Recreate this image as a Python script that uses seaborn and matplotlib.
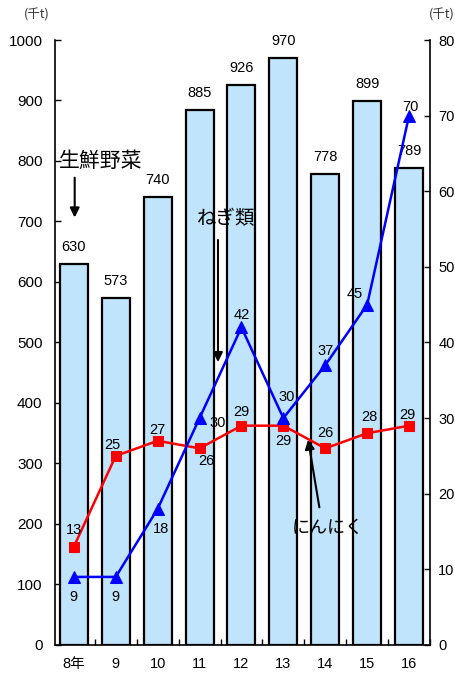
import matplotlib
matplotlib.use("Agg")
import matplotlib.pyplot as plt
import numpy as np
import pandas as pd
import seaborn as sns

# 出荷量データ（千t）
years = ["8年", "9", "10", "11", "12", "13", "14", "15", "16"]
vegetables = [630, 573, 740, 885, 926, 970, 778, 899, 789]   # 生鮮野菜
garlic = [13, 25, 27, 26, 29, 29, 26, 28, 29]                # にんにく
negi = [9, 9, 18, 30, 42, 30, 37, 45, 70]                    # ねぎ類

# 数値ラベルの中心のずれ（ピクセル、上が正）
garlic_offsets = [(0, 17), (-3, 11), (0, 11), (7, -13), (0, 14), (0, -15), (0, 15), (2, 16), (-2, 11)]
negi_offsets = [(0, -20), (0, -20), (3, -20), (18, -5), (0, 12), (3, 21), (0, 14), (-12, 11), (1, 9)]

PX = 72 / 100  # points per pixel at 100 dpi

sns.set_theme(style="white")
plt.rcParams["font.family"] = ["Liberation Sans", "Noto Sans CJK JP", "DejaVu Sans"]
plt.rcParams.update({"text.color": "black", "xtick.color": "black",
                     "ytick.color": "black", "axes.labelcolor": "black"})

fig = plt.figure(figsize=(4.56, 6.78), dpi=100)
ax = fig.add_axes([0.1206, 0.0487, 0.8224, 0.8923])

df = pd.DataFrame({"year": years, "veg": vegetables})
sns.barplot(data=df, x="year", y="veg", order=years, color="#BFE4FB",
            saturation=1, width=0.67, edgecolor="black", linewidth=1.6, ax=ax)

for i, v in enumerate(vegetables):
    ax.annotate(str(v), (i, v), xytext=(0, 17 * PX), textcoords="offset points",
                ha="center", va="center", fontsize=10.5)

ax.set_xlim(-0.45, 8.5)
ax.set_ylim(0, 1000)
ax.set_yticks(range(0, 1001, 100))
ax.set_xlabel("")
ax.set_ylabel("")
ax.tick_params(axis="y", direction="in", length=4, width=1, pad=9, labelsize=11, left=True)
ax.tick_params(axis="x", which="major", length=0, pad=9, labelsize=10.5)
ax.set_xticks(np.arange(len(years)) + 0.5, minor=True)
ax.tick_params(axis="x", which="minor", direction="in", length=4, width=1, bottom=True)
for s in ["left", "bottom"]:
    ax.spines[s].set_color("black")
    ax.spines[s].set_linewidth(1.2)
ax.spines["top"].set_visible(False)
ax.spines["right"].set_visible(False)

# 右軸：にんにく・ねぎ類
ax2 = ax.twinx()
pos = np.arange(len(years))
sns.lineplot(x=pos, y=garlic, color="red", marker="s", markersize=7,
             markeredgecolor="red", linewidth=1.8, ax=ax2)
sns.lineplot(x=pos, y=negi, color="blue", marker="^", markersize=8,
             markeredgecolor="blue", linewidth=1.8, ax=ax2)
ax2.set_ylim(0, 80)
ax2.set_yticks(range(0, 81, 10))
ax2.tick_params(axis="y", direction="in", length=4, width=1, pad=6, labelsize=10.5, right=True)
ax2.spines["right"].set_color("black")
ax2.spines["right"].set_linewidth(1.2)
for s in ["top", "left", "bottom"]:
    ax2.spines[s].set_visible(False)
ax2.set_ylabel("")

for vals, offs in ((garlic, garlic_offsets), (negi, negi_offsets)):
    for i, v in enumerate(vals):
        dx, dy = offs[i]
        ax2.annotate(str(v), (i, v), xytext=(dx * PX, dy * PX), textcoords="offset points",
                     ha="center", va="center", fontsize=10.5)

# 単位
jp = ["Noto Sans CJK JP", "DejaVu Sans"]
fig.text(37 / 456, 1 - 15 / 678, "(千t)", ha="center", va="center", fontsize=9,
         color="#333333", family=jp)
fig.text(442 / 456, 1 - 15 / 678, "(千t)", ha="center", va="center", fontsize=9,
         color="#333333", family=jp)

# 系列名と矢印
ax.text(-0.36, 800, "生鮮野菜", ha="left", va="center", fontsize=15, family=jp)
ax.annotate("", xy=(0.02, 702), xytext=(0.02, 777),
            arrowprops=dict(arrowstyle="-|>", color="black", lw=1.5, mutation_scale=14))
ax.text(3.63, 705, "ねぎ類", ha="center", va="center", fontsize=14, family=jp)
ax.annotate("", xy=(3.44, 463), xytext=(3.44, 674),
            arrowprops=dict(arrowstyle="-|>", color="black", lw=1.5, mutation_scale=14))
ax.text(6.05, 193, "にんにく", ha="center", va="center", fontsize=13, family=jp)
ax.annotate("", xy=(5.58, 344), xytext=(5.87, 223),
            arrowprops=dict(arrowstyle="-|>", color="black", lw=1.5, mutation_scale=14))

fig.savefig("out.png", dpi=100)
